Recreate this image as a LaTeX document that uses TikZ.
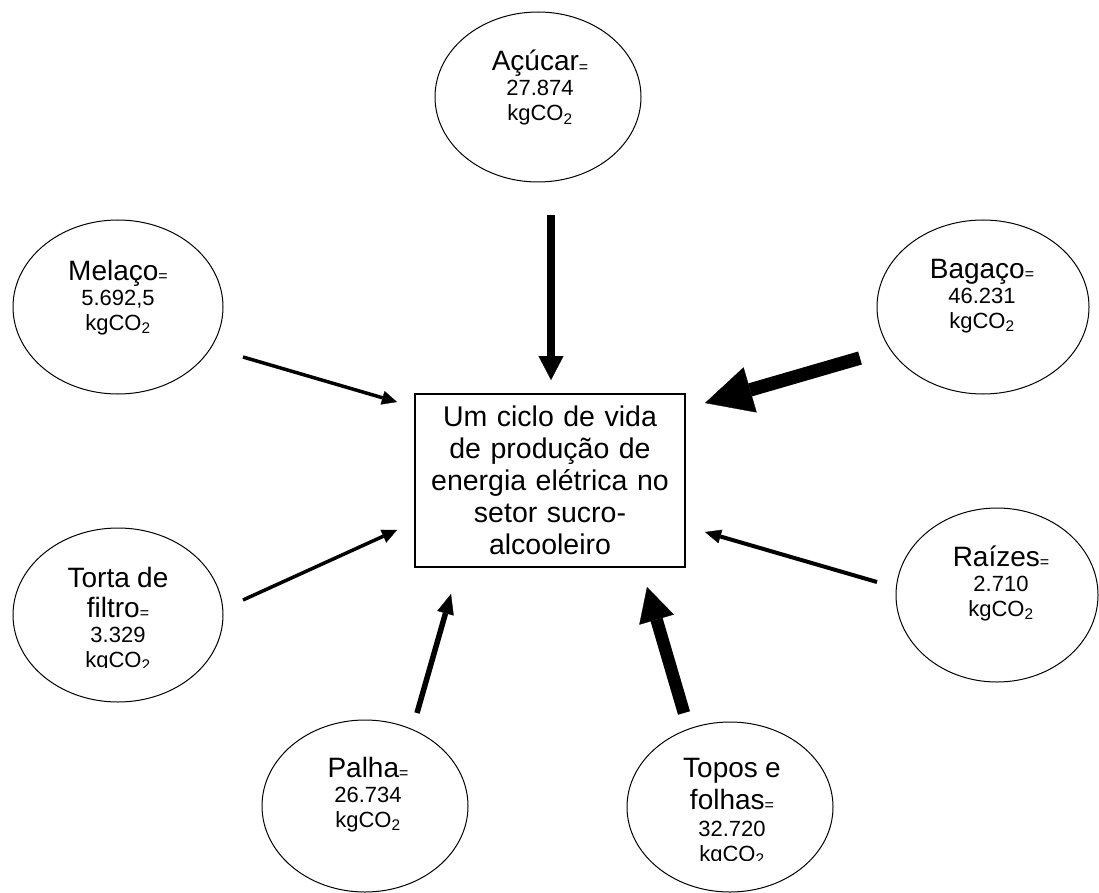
\documentclass[tikz,border=0pt]{standalone}
\usepackage{fontspec}
\setmainfont{Liberation Sans}
\usetikzlibrary{shapes.geometric,arrows.meta}

% name line: large word followed by a small equals sign
\newcommand{\srcname}[1]{{\fontsize{28}{25}\selectfont #1}{\fontsize{16}{25}\selectfont\raisebox{-1.5pt}{=}}}
\newcommand{\kgco}{kgCO\textsubscript{2}}

\tikzset{
  source/.style={ellipse, draw, line width=1pt, inner sep=0pt},
  lbl/.style={anchor=base, inner sep=0pt, text width=220pt, align=center,
              font=\fontsize{22}{25}\selectfont},
  corebox/.style={draw, line width=1.3pt, inner sep=0pt,
                  minimum width=270pt, minimum height=173pt},
  flow/.style n args={3}{line width=#1,
              -{Triangle[length=#2, width=#3, line width=0.3pt]}},
}

\begin{document}
\begin{tikzpicture}[x=1pt, y=-1pt]
\useasboundingbox (0,0) rectangle (1099,893);

% central box
\node[corebox] (core) at (550,480.5) {};
\node[lbl, text width=266pt, font=\fontsize{28.5}{32}\selectfont] (core-text) at (550,426)
  {Um ciclo de vida\\de produção de\\energia elétrica no\\setor sucro-\\alcooleiro};

% sources
\node[source, minimum width=206pt, minimum height=170pt] (acucar) at (538,97) {};
\node[lbl] (acucar-t) at (540,71) {\srcname{Açúcar}\\27.874\\\kgco};

\node[source, minimum width=210pt, minimum height=174pt] (melaco) at (118,307) {};
\node[lbl] (melaco-t) at (118,280) {\srcname{Melaço}\\5.692,5\\\kgco};

\node[source, minimum width=212pt, minimum height=174pt] (bagaco) at (983,307) {};
\node[lbl] (bagaco-t) at (982,278) {\srcname{Bagaço}\\46.231\\\kgco};

\node[source, minimum width=210pt, minimum height=174pt] (torta) at (118,615) {};
\begin{scope}
  \clip (0,500) rectangle (260,667.5);
  \node[lbl] (torta-t) at (118,587)
    {{\fontsize{28}{25}\selectfont Torta de}\\[5pt]\srcname{filtro}\\3.329\\\kgco};
\end{scope}

\node[source, minimum width=202pt, minimum height=174pt] (raizes) at (997,595) {};
\node[lbl] (raizes-t) at (1001,566) {\srcname{Raízes}\\2.710\\\kgco};

\node[source, minimum width=206pt, minimum height=172pt] (palha) at (365,806) {};
\node[lbl] (palha-t) at (368,777) {\srcname{Palha}\\26.734\\\kgco};

\node[source, minimum width=206pt, minimum height=170pt] (topos) at (730,807) {};
\begin{scope}
  \clip (600,700) rectangle (860,860.5);
  \node[lbl] (topos-t) at (732,777)
    {{\fontsize{28}{25}\selectfont Topos e}\\[5pt]\srcname{folhas}\\[2pt]32.720\\\kgco};
\end{scope}

% arrow ends
\coordinate (acucar-s) at (551,215);  \coordinate (acucar-e) at (551,380);
\coordinate (melaco-s) at (243,357);  \coordinate (melaco-e) at (397,402);
\coordinate (bagaco-s) at (860,358);  \coordinate (bagaco-e) at (705,403);
\coordinate (torta-s)  at (243,600);  \coordinate (torta-e)  at (397,530);
\coordinate (raizes-s) at (877,582);  \coordinate (raizes-e) at (705,532);
\coordinate (palha-s)  at (417,713);  \coordinate (palha-e)  at (451,594);
\coordinate (topos-s)  at (684,713);  \coordinate (topos-e)  at (647,587);

% contributions, drawn with widths by weight
\draw[flow={7.5pt}{24pt}{25pt}]  (acucar-s) -- (acucar-e);
\draw[flow={3.5pt}{15pt}{14pt}]  (melaco-s) -- (melaco-e);
\draw[flow={13.5pt}{47pt}{47pt}] (bagaco-s) -- (bagaco-e);
\draw[flow={3.5pt}{15pt}{14pt}]  (torta-s)  -- (torta-e);
\draw[flow={4pt}{16pt}{14pt}]    (raizes-s) -- (raizes-e);
\draw[flow={5.5pt}{20pt}{17pt}]  (palha-s)  -- (palha-e);
\draw[flow={12.5pt}{34pt}{36pt}] (topos-s)  -- (topos-e);
\end{tikzpicture}
\end{document}
